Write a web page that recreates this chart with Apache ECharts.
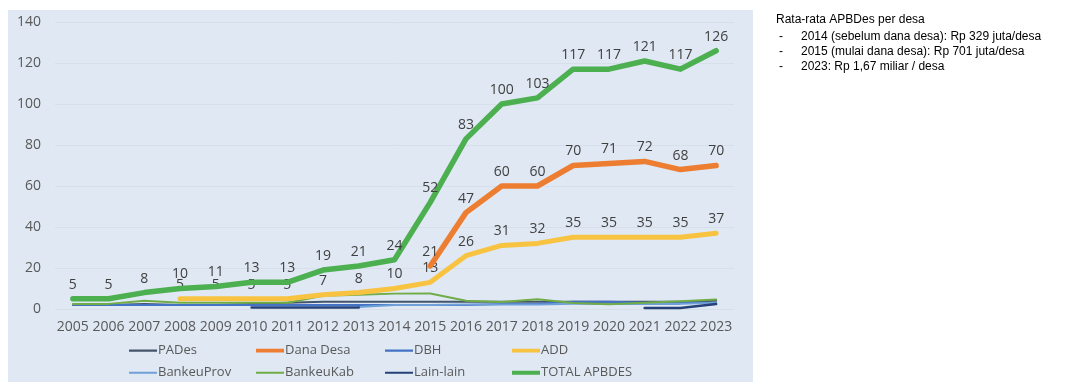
<!DOCTYPE html>
<html>
<head>
<meta charset="utf-8">
<script src="https://cdn.jsdelivr.net/npm/echarts@6/dist/echarts.min.js"></script>
<style>
html,body{margin:0;padding:0;background:#fff;}
#chart{width:1068px;height:382px;}
</style>
</head>
<body>
<div id="chart"></div>
<script>
const years = ['2005','2006','2007','2008','2009','2010','2011','2012','2013','2014','2015','2016','2017','2018','2019','2020','2021','2022','2023'];
const padesData = [2,2,2.5,2,2,2.5,3,3.5,3.5,3.5,3.5,3.5,3.5,3.5,3.5,3.5,3.5,3.5,4];
const danaDesaData = [null,null,null,null,null,null,null,null,null,null,21,47,60,60,70,71,72,68,70];
const dbhData = [2,2,2,2,2,2,2,2,2,2,2,2,2.4,2.6,3.5,3.5,3,3,3];
const addData = [null,null,null,5,5,5,5,7,8,10,13,26,31,32,35,35,35,35,37];
const bankeuProvData = [null,null,null,null,null,null,null,null,1,2,2,2.2,2.2,2.2,2.5,2.5,2.5,2.5,3];
const bankeuKabData = [2.5,2.5,4,3,3,3,3,6.5,7,7.5,7.6,4,3.4,4.8,2.9,2.3,3,3.8,4.6];
const lainLainData = [null,null,null,null,null,0.7,0.7,0.7,0.7,null,null,null,null,null,null,null,0.5,0.5,2.4];
const totalData = [5,5,8,10,11,13,13,19,21,24,52,83,100,103,117,117,121,117,126];
const yTicks = {min:0, max:140, interval:20};
const noteLines = ['Rata-rata APBDes per desa','2014 (sebelum dana desa): Rp 329 juta/desa','2015 (mulai dana desa): Rp 701 juta/desa','2023: Rp 1,67 miliar / desa'];

const font = 'Open Sans';
const lbl = {show:true, position:'top', distance:7, color:'#404040', fontSize:14, fontFamily:font};
function mk(name, data, color, width, z, label){
  return {name, type:'line', data, z,
    symbol: label ? 'circle' : 'none', symbolSize: 0.001, showSymbol: !!label,
    connectNulls:false,
    lineStyle:{color, width, cap:'round', join:'round'}, itemStyle:{color},
    label: label ? lbl : {show:false}, emphasis:{disabled:true}, animation:false};
}
const series = [
  mk('PADes', padesData, '#44546a', 2, 3),
  mk('Dana Desa', danaDesaData, '#ed7d31', 5.5, 6, true),
  mk('DBH', dbhData, '#4472c4', 2, 3),
  mk('ADD', addData, '#f7c341', 5, 5, true),
  mk('BankeuProv', bankeuProvData, '#6fa0d8', 2, 3),
  mk('BankeuKab', bankeuKabData, '#70ad47', 2, 4),
  mk('Lain-lain', lainLainData, '#26417a', 2.5, 3),
  mk('TOTAL APBDES', totalData, '#4caf50', 5.5, 7, true)
];
const thinIcon = 'path://M0,0L30,0L30,0.01Z M0,6L30,6L30,8.2L0,8.2Z M0,14L30,14L30,14.01Z';
const thickIcon = 'path://M0,0L30,0L30,0.01Z M0,5L30,5L30,9.2L0,9.2Z M0,14L30,14L30,14.01Z';
const thick = {'Dana Desa':1,'ADD':1,'TOTAL APBDES':1};
const legCols = [['PADes','BankeuProv'],['Dana Desa','BankeuKab'],['DBH','Lain-lain'],['ADD','TOTAL APBDES']];
const legLeft = [129,256,385,512];
const legends = legCols.map((d,i)=>({
  data:d.map(n=>({name:n, icon: thick[n]?thickIcon:thinIcon})),
  orient:'vertical', left:legLeft[i], top:344, itemGap:9, padding:0,
  itemWidth:28, itemHeight:14, selectedMode:false,
  textStyle:{color:'#595959', fontSize:13, fontFamily:font, padding:[0,0,0,-4]}}));

const graphics = [{type:'rect', shape:{x:8,y:10,width:745,height:372}, style:{fill:'#dfe8f3'}, z:-10, silent:true}];
graphics.push({type:'text', left:776, top:14, style:{text:noteLines[0], fontSize:12, fontFamily:'Liberation Sans', fill:'#000'}});
for(let i=1;i<noteLines.length;i++){
  graphics.push({type:'text', left:779, top:16+i*15, style:{text:'-', fontSize:12, fontFamily:'Liberation Sans', fill:'#000'}});
  graphics.push({type:'text', left:801, top:16+i*15, style:{text:noteLines[i], fontSize:12, fontFamily:'Liberation Sans', fill:'#000'}});
}

const chart = echarts.init(document.getElementById('chart'), null, {renderer:'canvas'});
chart.setOption({
  animation:false,
  backgroundColor:'#fff',
  graphic: graphics,
  legend: legends,
  grid:{left:55, right:334, top:22, bottom:73, containLabel:false},
  xAxis:{type:'category', data:years, boundaryGap:true,
    axisLine:{show:false}, axisTick:{show:false},
    axisLabel:{color:'#595959', fontSize:14, fontFamily:font, margin:11, interval:0}},
  yAxis:{type:'value', min:yTicks.min, max:yTicks.max, interval:yTicks.interval,
    axisLine:{show:false}, axisTick:{show:false},
    axisLabel:{color:'#595959', fontSize:14, fontFamily:font, margin:14},
    splitLine:{lineStyle:{color:'#d6dfea', width:1}}},
  series
});
</script>
</body>
</html>
